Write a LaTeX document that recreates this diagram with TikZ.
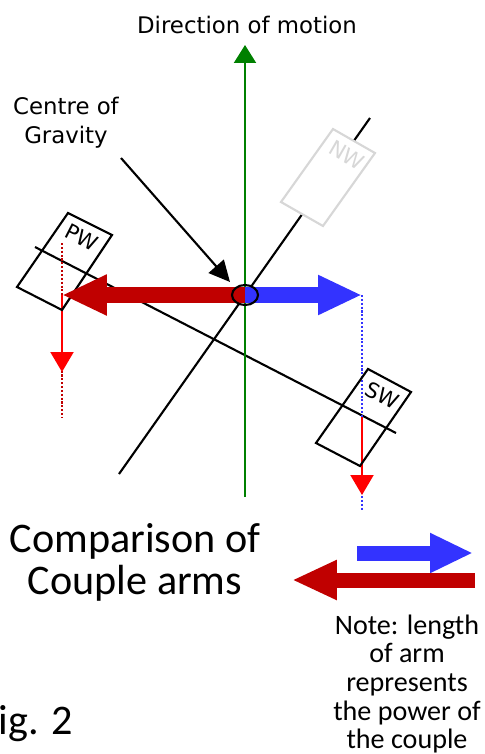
\documentclass[tikz,border=0pt]{standalone}
\usepackage{fontspec}
\setmainfont{DejaVu Sans}
\newfontfamily\calibri{Carlito}
\usetikzlibrary{arrows.meta}
\definecolor{armred}{RGB}{192,0,0}
\definecolor{armblue}{RGB}{51,51,255}
\definecolor{motiongreen}{RGB}{0,128,0}
\definecolor{ghostgray}{RGB}{215,215,215}

\tikzset{
  axle/.style={black, line width=1.2pt},
  wheel/.style={line width=1.2pt},
  wheellabel/.style={font=\fontsize{12}{14}\selectfont, inner sep=1pt},
  bigarm/.style={line width=0.32cm},
  guide/.style={densely dotted, line width=1.2pt},
  drop/.style={red, line width=1.2pt, -{Triangle[length=0.4cm,width=0.46cm]}},
}

\begin{document}
\begin{tikzpicture}[x=0.02cm, y=-0.02cm]
    \useasboundingbox (0,0) rectangle (484,754);

    % Points of the chassis
    \coordinate (cog) at (245,295);
    \coordinate (front top) at (370,118);
    \coordinate (front bottom) at (119,474);
    \coordinate (rear left) at (35,247);
    \coordinate (rear right) at (396,433);
    \coordinate (motion base) at (245,497);
    \coordinate (motion tip) at (245,45);
    \coordinate (red tip) at (62,295);
    \coordinate (blue tip) at (362,295);
    \coordinate (pw top) at (62,243);
    \coordinate (pw drop) at (62,372);
    \coordinate (pw foot) at (62,418);
    \coordinate (sw start) at (362,417);
    \coordinate (sw drop) at (362,495);
    \coordinate (sw foot) at (362,510);

    % Axles
    \draw[axle] (front bottom) -- (front top);
    \draw[axle] (rear left) -- (rear right);

    % The lifted wheel
    \filldraw[wheel, fill=white, draw=ghostgray] (333,129) -- (375,153) -- (323,226) -- (281,202) -- cycle;
    \node[wheellabel, text=ghostgray, rotate=-30] (nw label) at (347,155) {NW};

    % Direction of motion
    \draw[motiongreen, line width=1.2pt, -{Triangle[length=0.36cm,width=0.44cm]}] (motion base) -- (motion tip);
    \node[font=\fontsize{13}{16}\selectfont, anchor=base] (motion label) at (247,33) {Direction of motion};

    % Lines of action below the arm ends
    \draw[guide, armred] (pw top) -- (pw foot);
    \draw[guide, armblue] (blue tip) -- (sw foot);
    \draw[drop] (red tip) -- (pw drop);
    \draw[drop] (sw start) -- (sw drop);

    % Wheels on the ground
    \draw[wheel] (68,213) -- (112,235) -- (62,310) -- (17,287) -- cycle;
    \node[wheellabel, rotate=-27] (pw label) at (82,237) {PW};
    \draw[wheel] (368,369) -- (411,392) -- (360,466) -- (316,443) -- cycle;
    \node[wheellabel, rotate=-27] (sw label) at (382,395) {SW};

    % Couple arms
    \draw[bigarm, armred, -{Triangle[length=0.9cm,width=0.76cm]}] (cog) -- (red tip);
    \draw[bigarm, armblue, -{Triangle[length=0.88cm,width=0.74cm]}] (cog) -- (blue tip);
    \draw[line width=1.2pt] (cog) ellipse [x radius=0.26cm, y radius=0.2cm];

    % Centre of gravity
    \node[font=\fontsize{13}{16.4}\selectfont, align=center] (cog label) at (66,123) {Centre of\\Gravity};
    \coordinate (pointer start) at (121,158);
    \coordinate (pointer end) at (230,282);
    \draw[line width=1.2pt, -{Triangle[length=0.42cm,width=0.4cm]}] (pointer start) -- (pointer end);

    % Comparison
    \node[font=\calibri\fontsize{24}{23.8}\selectfont, align=center] (compare label) at (135,562) {Comparison of\\Couple arms};
    \coordinate (key blue tail) at (357,553);
    \coordinate (key blue tip) at (473,553);
    \coordinate (key red tail) at (475,580);
    \coordinate (key red tip) at (292,580);
    \draw[line width=0.3cm, armblue, -{Triangle[length=0.86cm,width=0.74cm]}] (key blue tail) -- (key blue tip);
    \draw[line width=0.3cm, armred, -{Triangle[length=0.9cm,width=0.74cm]}] (key red tail) -- (key red tip);

    \node[font=\calibri\fontsize{16}{16.3}\selectfont, align=center] (note) at (407,684) {Note: length\\of arm\\represents\\the power of\\the couple};
    \node[font=\calibri\fontsize{24}{28}\selectfont, anchor=base west] (fig label) at (-27,734) {Fig. 2};
\end{tikzpicture}
\end{document}
